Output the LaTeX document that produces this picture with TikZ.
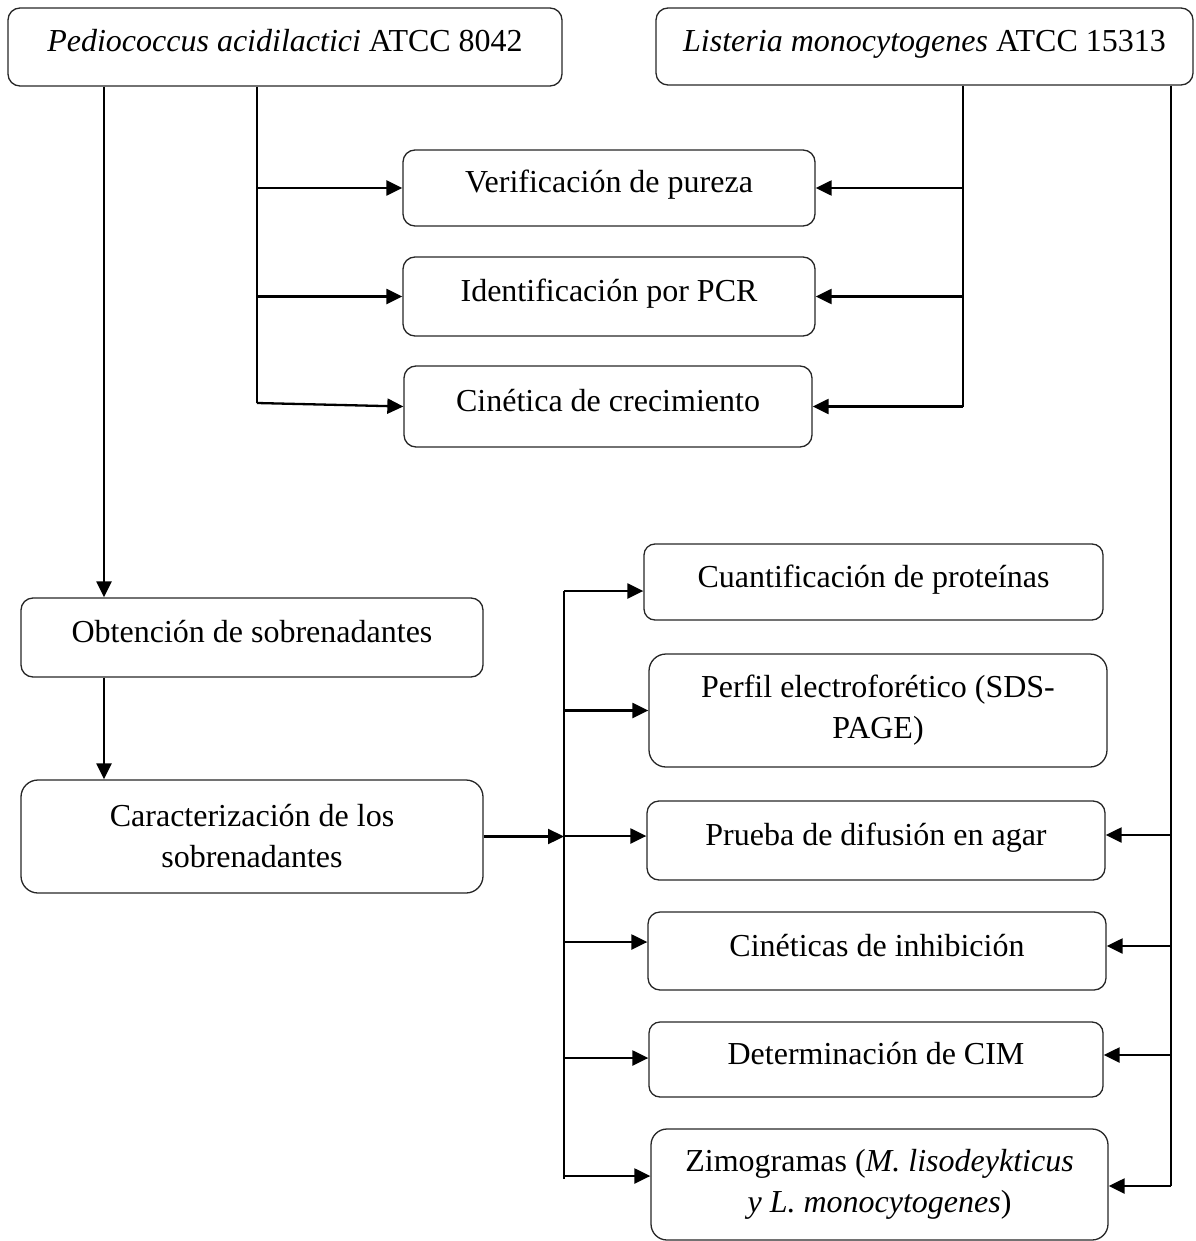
\documentclass[tikz,border=0pt]{standalone}
\usepackage{fontspec}
\setmainfont{Liberation Serif}
\usetikzlibrary{arrows.meta}
\begin{document}
\begin{tikzpicture}[x=0.5pt,y=-0.5pt,
  box/.style={draw=black!85, line width=0.65pt, rounded corners=#1, inner sep=0pt,
    align=center, font=\fontsize{16}{20.5}\selectfont},
  box/.default=6pt,
  oneline/.style={text height=11pt, text depth=6pt},
  link/.style={line width=1.15pt},
  arr/.style={line width=1.15pt, -{Triangle[length=8pt,width=7.5pt]}}
]
\useasboundingbox (0,0) rectangle (1195,1241);

% strains
\node[box, oneline, minimum width=277pt, minimum height=39pt] (ped) at (285,47)
  {\textit{Pediococcus acidilactici} ATCC 8042};
\node[box, oneline, minimum width=268.5pt, minimum height=38.5pt] (lis) at (924.5,46.5)
  {\textit{Listeria monocytogenes} ATCC 15313};

% characterisation of both strains
\node[box, oneline, minimum width=206pt, minimum height=38pt] (ver) at (609,188)
  {Verificación de pureza};
\node[box, oneline, minimum width=206pt, minimum height=39.5pt] (ide) at (609,296.5)
  {Identificación por PCR};
\node[box, oneline, minimum width=204pt, minimum height=40.5pt] (cin) at (608,406.5)
  {Cinética de crecimiento};

% supernatants
\node[box, oneline, minimum width=231pt, minimum height=39.5pt] (obt) at (252,637.5)
  {Obtención de sobrenadantes};
\node[box=8.5pt, minimum width=231pt, minimum height=56.5pt] (car) at (252,836.5)
  {Caracterización de los\\sobrenadantes};

% analyses
\node[box=5.5pt, oneline, minimum width=229.5pt, minimum height=38pt] (cua) at (873.5,582)
  {Cuantificación de proteínas};
\node[box=8.5pt, minimum width=229pt, minimum height=56.5pt] (per) at (878,710.5)
  {Perfil electroforético (SDS-\\PAGE)};
\node[box, oneline, minimum width=229pt, minimum height=39.5pt] (pru) at (876,840.5)
  {Prueba de difusión en agar};
\node[box, oneline, minimum width=229pt, minimum height=39pt] (cis) at (877,951)
  {Cinéticas de inhibición};
\node[box=5.5pt, oneline, minimum width=227pt, minimum height=37.5pt] (det) at (876,1059.5)
  {Determinación de CIM};
\node[box=8pt, minimum width=228.5pt, minimum height=55.5pt] (zim) at (879.5,1184.5)
  {Zimogramas (\textit{M. lisodeykticus}\\\textit{y L. monocytogenes})};

% trunk positions
\coordinate (ta) at (104,0);
\coordinate (tb) at (257,0);
\coordinate (tc) at (963,0);
\coordinate (td) at (1171,0);
\coordinate (bus) at (564,0);

% Pediococcus branches
\draw[arr] (ped.south -| ta) -- (obt.north -| ta);
\draw[arr] (obt.south -| ta) -- (car.north -| ta);
\coordinate (tbend) at (257,403);
\draw[link] (ped.south -| tb) -- (tbend);
\draw[arr] (ver.west -| tb) -- (ver.west);
\draw[arr] (ide.west -| tb) -- (ide.west);
\draw[arr] (tbend) -- (cin.west);

% Listeria branches to the strain checks
\draw[link] (lis.south -| tc) -- (cin.east -| tc);
\draw[arr] (ver.east -| tc) -- (ver.east);
\draw[arr] (ide.east -| tc) -- (ide.east);
\draw[arr] (cin.east -| tc) -- (cin.east);

% Listeria branches to the activity tests
\draw[link] (lis.south -| td) -- ([yshift=-0.75pt]zim.east -| td);
\draw[arr] ([yshift=2.75pt]pru.east -| td) -- ([yshift=2.75pt]pru.east);
\draw[arr] ([yshift=2.5pt]cis.east -| td) -- ([yshift=2.5pt]cis.east);
\draw[arr] ([yshift=2.25pt]det.east -| td) -- ([yshift=2.25pt]det.east);
\draw[arr] ([yshift=-0.75pt]zim.east -| td) -- ([yshift=-0.75pt]zim.east);

% supernatant characterisation bus
\draw[arr] (car.east) -- (car.east -| bus);
\draw[link] ([yshift=-4.5pt]cua.west -| bus) -- ([yshift=3pt]zim.west -| bus);
\draw[arr] ([yshift=-4.5pt]cua.west -| bus) -- ([yshift=-4.5pt]cua.west);
\draw[arr] (per.west -| bus) -- (per.west);
\draw[arr] ([yshift=2.25pt]pru.west -| bus) -- ([yshift=2.25pt]pru.west);
\draw[arr] ([yshift=4.5pt]cis.west -| bus) -- ([yshift=4.5pt]cis.west);
\draw[arr] ([yshift=0.75pt]det.west -| bus) -- ([yshift=0.75pt]det.west);
\draw[arr] ([yshift=4.25pt]zim.west -| bus) -- ([yshift=4.25pt]zim.west);
\end{tikzpicture}
\end{document}
